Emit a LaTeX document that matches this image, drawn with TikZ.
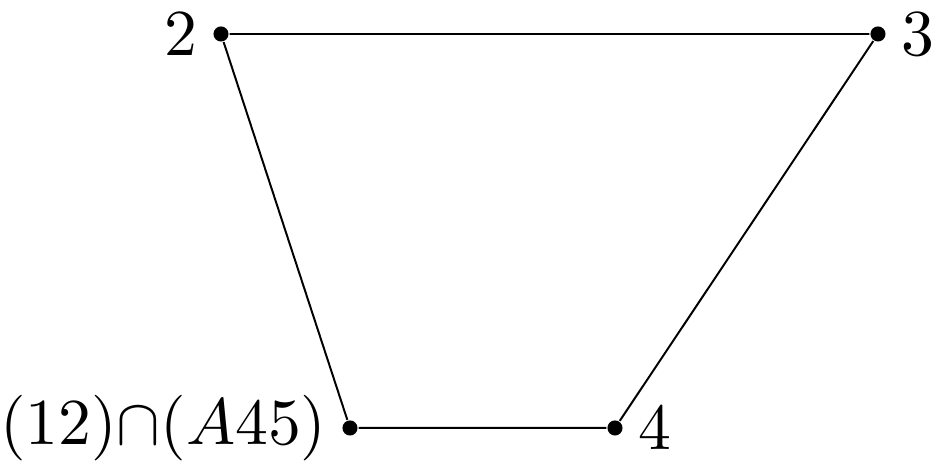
\documentclass[tikz,border=0pt]{standalone}
\usetikzlibrary{positioning}
\begin{document}
\begin{tikzpicture}[x=0.00535cm,y=0.00535cm,line width=0.3pt,
    vertex/.style={circle,fill,inner sep=0pt,minimum size=2.3pt}]
    \useasboundingbox (0,0) rectangle (940,466);
    \foreach \N/\X/\Y/\P/\T in
    {2/221/432/left/{$2$},3/878/432/right/{$3$},4/615/38/right/{$4$},1/350/38/left/{$(12){\cap}(A45)$}}
     {\node[vertex,label={[label distance=-1.2pt]\P:\T}] (V-\N) at (\X,\Y) {};}
    \draw (V-2) -- (V-3) -- (V-4) -- (V-1) -- (V-2);
\end{tikzpicture}
\end{document}
